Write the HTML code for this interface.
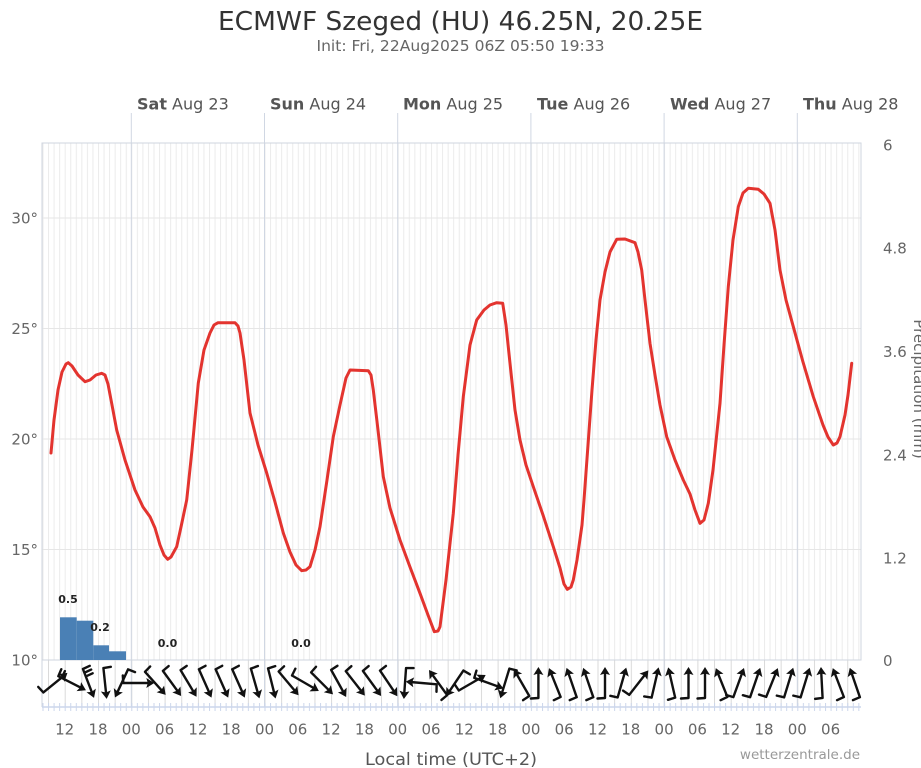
<!DOCTYPE html>
<html>
<head>
<meta charset="utf-8">
<style>
  html, body { margin: 0; padding: 0; background: #ffffff; }
  svg { display: block; }
  text { font-family: "DejaVu Sans", "Liberation Sans", sans-serif; }
</style>
</head>
<body>
<svg width="921" height="768" viewBox="0 0 921 768" xmlns="http://www.w3.org/2000/svg">
  <defs>
    <pattern id="hgrid" patternUnits="userSpaceOnUse" x="131.3" y="143" width="5.55" height="20">
      <rect x="0" y="0" width="1" height="20" fill="#ebebeb"/>
    </pattern>
    <pattern id="sgrid" patternUnits="userSpaceOnUse" x="131.3" y="660" width="16.65" height="47">
      <rect x="0" y="0" width="1" height="47" fill="#d9d9d9"/>
    </pattern>
    <pattern id="ticks" patternUnits="userSpaceOnUse" x="131.3" y="703" width="5.55" height="8">
      <rect x="0" y="0" width="1" height="8" fill="#ccd6eb"/>
    </pattern>
    <g id="a1">
      <path d="M-15 0 L10 0 M-15 0 L-15.5 -7.5" stroke="#111111" stroke-width="2.4" fill="none" stroke-linecap="round"/>
      <path d="M16 0 L8 -5 L9.5 0 L8 5 Z" fill="#111111"/>
    </g>
    <g id="a2">
      <path d="M-15 0 L10 0 M-15 0 L-15.5 -7.5 M-11 0 L-11.5 -7.5" stroke="#111111" stroke-width="2.4" fill="none" stroke-linecap="round"/>
      <path d="M16 0 L8 -5 L9.5 0 L8 5 Z" fill="#111111"/>
    </g>
    <g id="a3">
      <path d="M-15 0 L10 0 M-15 0 L-15.5 -7.5 M-11 0 L-11.5 -7.5 M-7 0 L-7.5 -7.5" stroke="#111111" stroke-width="2.4" fill="none" stroke-linecap="round"/>
      <path d="M16 0 L8 -5 L9.5 0 L8 5 Z" fill="#111111"/>
    </g>
  </defs>

  <rect x="0" y="0" width="921" height="768" fill="#ffffff"/>

  <!-- Title -->
  <text x="460.5" y="30" text-anchor="middle" font-size="26" fill="#333333" textLength="485" lengthAdjust="spacingAndGlyphs">ECMWF Szeged (HU) 46.25N, 20.25E</text>
  <text x="460.5" y="51" text-anchor="middle" font-size="15" fill="#666666" textLength="288" lengthAdjust="spacingAndGlyphs">Init: Fri, 22Aug2025 06Z 05:50 19:33</text>

  <!-- Plot grid -->
  <rect x="42" y="143" width="819" height="517" fill="url(#hgrid)"/>
  <g stroke="#e6e6e6" stroke-width="1">
    <line x1="42" y1="218" x2="861" y2="218"/>
    <line x1="42" y1="328.5" x2="861" y2="328.5"/>
    <line x1="42" y1="439" x2="861" y2="439"/>
    <line x1="42" y1="549.5" x2="861" y2="549.5"/>
  </g>

  <!-- wind strip grid -->
  <rect x="42" y="660" width="819" height="47" fill="url(#sgrid)"/>

  <!-- day lines -->
  <g stroke="#d0d7e3" stroke-width="1">
    <line x1="131.3" y1="113" x2="131.3" y2="707"/>
    <line x1="264.5" y1="113" x2="264.5" y2="707"/>
    <line x1="397.7" y1="113" x2="397.7" y2="707"/>
    <line x1="530.9" y1="113" x2="530.9" y2="707"/>
    <line x1="664.1" y1="113" x2="664.1" y2="707"/>
    <line x1="797.3" y1="113" x2="797.3" y2="707"/>
  </g>

  <!-- plot border -->
  <rect x="42" y="143" width="819" height="517" fill="none" stroke="#cfd5df" stroke-width="1"/>
  <line x1="42" y1="660" x2="42" y2="707" stroke="#cfd5df" stroke-width="1"/>

  <!-- bottom axis -->
  <rect x="42" y="703" width="819" height="8" fill="url(#ticks)"/>
  <line x1="42" y1="707" x2="861" y2="707" stroke="#ccd6eb" stroke-width="1.5"/>

  <!-- Day labels -->
  <g font-size="16" fill="#555555">
    <text x="137" y="109.5"><tspan font-weight="bold">Sat</tspan> Aug 23</text>
    <text x="270" y="109.5"><tspan font-weight="bold">Sun</tspan> Aug 24</text>
    <text x="403" y="109.5"><tspan font-weight="bold">Mon</tspan> Aug 25</text>
    <text x="537" y="109.5"><tspan font-weight="bold">Tue</tspan> Aug 26</text>
    <text x="670" y="109.5"><tspan font-weight="bold">Wed</tspan> Aug 27</text>
    <text x="803" y="109.5"><tspan font-weight="bold">Thu</tspan> Aug 28</text>
  </g>

  <!-- Left axis labels -->
  <g font-size="15" fill="#666666" text-anchor="end">
    <text x="38" y="223.5">30°</text>
    <text x="38" y="334">25°</text>
    <text x="38" y="444.5">20°</text>
    <text x="38" y="555">15°</text>
    <text x="38" y="665.5">10°</text>
  </g>

  <!-- Right axis labels -->
  <g font-size="15" fill="#666666">
    <text x="883" y="150.5">6</text>
    <text x="883" y="253.5">4.8</text>
    <text x="883" y="357">3.6</text>
    <text x="883" y="460.5">2.4</text>
    <text x="883" y="563.5">1.2</text>
    <text x="883" y="666">0</text>
  </g>
  <text transform="translate(914,389) rotate(90)" text-anchor="middle" font-size="15" fill="#666666">Precipitation (mm)</text>

  <!-- Precip bars -->
  <g fill="#4a80b5">
    <rect x="60" y="617.3" width="16.7" height="42.7"/>
    <rect x="76.7" y="620.7" width="16.6" height="39.3"/>
    <rect x="93.3" y="645.3" width="15.7" height="14.7"/>
    <rect x="109" y="651.3" width="17" height="8.7"/>
  </g>
  <g font-size="11" font-weight="bold" fill="#222222" text-anchor="middle">
    <text x="68" y="603">0.5</text>
    <text x="100" y="631">0.2</text>
    <text x="167.5" y="647">0.0</text>
    <text x="301" y="647">0.0</text>
  </g>

  <!-- Temperature line -->
  <polyline fill="none" stroke="#e3342f" stroke-width="3" stroke-linejoin="round" stroke-linecap="round"
    points="51,453 54,420 58,390 62,372 66,364 68.3,362.7 72,366 78,375 85,381.7 90,380 96,375 101.7,373.3 105,375 108,384 112,405 116.7,430 125,460 135,490 143,507 150,516.7 155,528 160,545 164,555 167.7,559.3 171,557 176.7,546.7 181,527 186.7,500 192,450 198.3,383 204,350 210,333 214,325 218,322.7 235,322.7 238,326 240,333 244,360 250,413 258,445 266.7,473 275,502 283.3,533 290,552 296,565 301.7,570.7 306,570 310,566.7 315,550 320,526.7 327,480 333.3,436.7 340,405 346,378 350,370 368.3,370.7 371,375 373.3,390 378,430 383.3,476.7 390,508 400,540 410,567 420,593.3 428,615 434.3,631.7 438,631 440,626.7 446,580 453.3,513.3 458,455 463.3,396.7 470,345 476.7,320 484,310 490,305 496.7,302.7 502.7,303.3 506,325 510,363.3 515,410 520,440 526,465 533.3,486.7 543,515 553.3,546.7 560,568 564,584 567.3,589.3 571,587 573.3,580 577,560 582,525 584,500 588,445 592,390 596,340 600,300 605,272 610,252 616.7,239.3 625,239 635,242.7 638,252 641.7,270 645,300 650,343.3 655,375 660,405 666.7,436.7 675,460 683.3,480 690,494 695,510 700,523.3 704,520 708.3,503.3 713,470 720,403.3 724,345 728.3,286.7 733,240 738.3,206.7 743,193 748.3,188.3 758.3,189.3 764,194 770,203.3 775,230 780,270 786,300 793.3,326.7 803,362 813.3,396.7 823,425 828,437 833.3,445 837,443 840,436.7 845,415 848,395 851.7,363.3"/>

  <!-- Wind arrows -->
  <g>
    <use href="#a1" transform="translate(55,683) rotate(-39)"/>
    <use href="#a2" transform="translate(71.7,683) rotate(27)"/>
    <use href="#a3" transform="translate(88.3,683) rotate(69)"/>
    <use href="#a1" transform="translate(105,683) rotate(84)"/>
    <use href="#a1" transform="translate(121.7,683) rotate(115)"/>
    <use href="#a1" transform="translate(138.3,683) rotate(0)"/>
    <use href="#a1" transform="translate(155,683) rotate(48)"/>
    <use href="#a1" transform="translate(171.7,683) rotate(54)"/>
    <use href="#a1" transform="translate(188.3,683) rotate(59)"/>
    <use href="#a1" transform="translate(205,683) rotate(66)"/>
    <use href="#a1" transform="translate(221.7,683) rotate(66)"/>
    <use href="#a1" transform="translate(238.3,683) rotate(66)"/>
    <use href="#a1" transform="translate(255,683) rotate(74)"/>
    <use href="#a1" transform="translate(271.7,683) rotate(76)"/>
    <use href="#a1" transform="translate(288.3,683) rotate(50)"/>
    <use href="#a1" transform="translate(305,683) rotate(30)"/>
    <use href="#a1" transform="translate(321.7,683) rotate(45)"/>
    <use href="#a1" transform="translate(338.4,683) rotate(61)"/>
    <use href="#a1" transform="translate(355,683) rotate(52)"/>
    <use href="#a1" transform="translate(371.7,683) rotate(54)"/>
    <use href="#a1" transform="translate(388.4,683) rotate(56)"/>
    <use href="#a1" transform="translate(405,683) rotate(94)"/>
    <use href="#a1" transform="translate(421.7,683) rotate(185)"/>
    <use href="#a1" transform="translate(438.4,683) rotate(-126)"/>
    <use href="#a1" transform="translate(455,683) rotate(124)"/>
    <use href="#a1" transform="translate(471.8,683) rotate(-30)"/>
    <use href="#a1" transform="translate(488.4,683) rotate(20)"/>
    <use href="#a1" transform="translate(505,683) rotate(107)"/>
    <use href="#a1" transform="translate(521.8,683) rotate(-120)"/>
    <use href="#a1" transform="translate(538.4,683) rotate(-90)"/>
    <use href="#a1" transform="translate(555,683) rotate(-112)"/>
    <use href="#a1" transform="translate(571.8,683) rotate(-109)"/>
    <use href="#a1" transform="translate(588.4,683) rotate(-109)"/>
    <use href="#a1" transform="translate(605,683) rotate(-90)"/>
    <use href="#a1" transform="translate(621.8,683) rotate(-74)"/>
    <use href="#a1" transform="translate(638.5,683) rotate(-52)"/>
    <use href="#a1" transform="translate(655,683) rotate(-77)"/>
    <use href="#a1" transform="translate(671.8,683) rotate(-103)"/>
    <use href="#a1" transform="translate(688.5,683) rotate(-90)"/>
    <use href="#a1" transform="translate(705,683) rotate(-90)"/>
    <use href="#a1" transform="translate(721.8,683) rotate(-112)"/>
    <use href="#a1" transform="translate(738.5,683) rotate(-70)"/>
    <use href="#a1" transform="translate(755,683) rotate(-71)"/>
    <use href="#a1" transform="translate(771.8,683) rotate(-68)"/>
    <use href="#a1" transform="translate(788.5,683) rotate(-73)"/>
    <use href="#a1" transform="translate(805,683) rotate(-73)"/>
    <use href="#a1" transform="translate(821.8,683) rotate(-93)"/>
    <use href="#a1" transform="translate(838.5,683) rotate(-111)"/>
    <use href="#a1" transform="translate(855,683) rotate(-109)"/>
  </g>

  <!-- X axis labels -->
  <g font-size="15" fill="#666666" text-anchor="middle">
    <text x="64.7" y="734.5">12</text>
    <text x="98" y="734.5">18</text>
    <text x="131.3" y="734.5">00</text>
    <text x="164.6" y="734.5">06</text>
    <text x="197.9" y="734.5">12</text>
    <text x="231.2" y="734.5">18</text>
    <text x="264.5" y="734.5">00</text>
    <text x="297.8" y="734.5">06</text>
    <text x="331.1" y="734.5">12</text>
    <text x="364.4" y="734.5">18</text>
    <text x="397.7" y="734.5">00</text>
    <text x="431" y="734.5">06</text>
    <text x="464.3" y="734.5">12</text>
    <text x="497.6" y="734.5">18</text>
    <text x="530.9" y="734.5">00</text>
    <text x="564.2" y="734.5">06</text>
    <text x="597.5" y="734.5">12</text>
    <text x="630.8" y="734.5">18</text>
    <text x="664.1" y="734.5">00</text>
    <text x="697.4" y="734.5">06</text>
    <text x="730.7" y="734.5">12</text>
    <text x="764" y="734.5">18</text>
    <text x="797.3" y="734.5">00</text>
    <text x="830.6" y="734.5">06</text>
  </g>

  <text x="451" y="765" text-anchor="middle" font-size="17" fill="#555555" textLength="172" lengthAdjust="spacingAndGlyphs">Local time (UTC+2)</text>
  <text x="860" y="759" text-anchor="end" font-size="13.5" fill="#999999">wetterzentrale.de</text>
</svg>
</body>
</html>
